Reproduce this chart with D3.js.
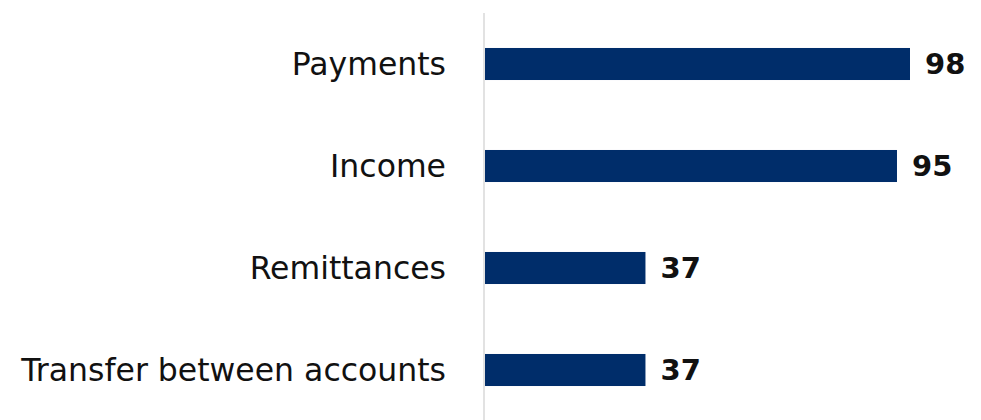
<!DOCTYPE html>
<html>
<head>
<meta charset="utf-8">
<script src="https://cdn.jsdelivr.net/npm/d3@7"></script>
<style>
  body { margin: 0; background: #fff; }
  text { font-family: "DejaVu Sans", sans-serif; }
</style>
</head>
<body>
<div id="viz-wrapper"></div>
<script>
let width = 981,
    height = 420;

// chart data
let categories = ["Payments", "Income", "Remittances", "Transfer between accounts"];
let values = [98, 95, 37, 37];

let axisX = 484;

let xScale = d3.scaleLinear().domain([0, 98]).range([axisX + 1, 910]);
let yScale = d3.scaleBand()
                .domain(categories)
                .range([13, 421])
                .paddingInner(0.686)
                .paddingOuter(0.343);

let svg = d3.select("#viz-wrapper")
              .append("svg")
              .attr("width", width)
              .attr("height", height);

// vertical axis line
svg.append("line")
    .attr("x1", axisX).attr("x2", axisX)
    .attr("y1", 13).attr("y2", height)
    .style("stroke", "#d9d9d9")
    .style("stroke-width", 1.5);

let data = categories.map(function(c, i) { return { cat: c, value: values[i] }; });

// bars
svg.selectAll("rect.bar")
    .data(data)
    .enter()
    .append("rect")
    .attr("class", "bar")
    .attr("x", xScale(0))
    .attr("y", function(d) { return yScale(d.cat); })
    .attr("width", function(d) { return xScale(d.value) - xScale(0); })
    .attr("height", yScale.bandwidth())
    .style("fill", "#002d6a");

// category labels
svg.selectAll("text.cat")
    .data(data)
    .enter()
    .append("text")
    .attr("class", "cat")
    .attr("x", 446)
    .attr("y", function(d) { return yScale(d.cat) + yScale.bandwidth() / 2; })
    .attr("dy", "0.36em")
    .attr("text-anchor", "end")
    .style("font-size", "31.5px")
    .style("fill", "#111")
    .text(function(d) { return d.cat; });

// value labels
svg.selectAll("text.val")
    .data(data)
    .enter()
    .append("text")
    .attr("class", "val")
    .attr("x", function(d) { return xScale(d.value) + 15; })
    .attr("y", function(d) { return yScale(d.cat) + yScale.bandwidth() / 2; })
    .attr("dy", "0.36em")
    .style("font-size", "29px")
    .style("font-weight", "bold")
    .style("fill", "#111")
    .text(function(d) { return d.value; });
</script>
</body>
</html>
